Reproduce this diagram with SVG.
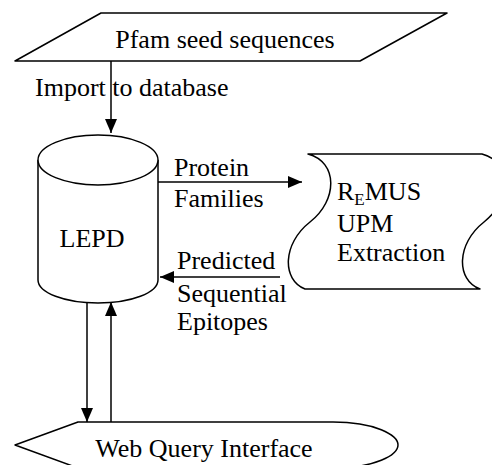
<svg xmlns="http://www.w3.org/2000/svg" width="492" height="465" viewBox="0 0 492 465">
<style>
.s{fill:#fff;stroke:#000;stroke-width:1.5;stroke-linejoin:round}
.t{font-family:"Liberation Serif","Times New Roman",serif;font-size:26px;fill:#000}
.c{stroke:#000;stroke-width:1.5;fill:none}
</style>
<defs>
<marker id="ah" viewBox="0 0 14 12" refX="14" refY="6" markerWidth="14" markerHeight="12" markerUnits="userSpaceOnUse" orient="auto">
<path d="M0,0 L14,6 L0,12 Z" fill="#000"/>
</marker>
</defs>
<rect width="492" height="465" fill="#fff"/>
<g id="pfam">
<path class="s" d="M101,13 L447,13 L360,61 L15,61 Z"/>
<text class="t" x="225" y="48" text-anchor="middle">Pfam seed sequences</text>
</g>
<g id="lepd">
<path class="s" d="M38,160 L38,280 A60,23 0 0 0 158,280 L158,160"/>
<ellipse class="s" cx="98" cy="160" rx="60" ry="25"/>
<text class="t" x="92" y="247" text-anchor="middle">LEPD</text>
</g>
<g id="remus">
<path class="s" d="M308,154 L482,154 C512,162 512,200 484,222 C456,244 456,280 480,289 L305,289 C282,280 282,244 310,222 C338,200 338,162 308,154 Z"/>
<text class="t" x="337" y="200">R<tspan font-size="17" dy="5">E</tspan><tspan dy="-5">MUS</tspan></text>
<text class="t" x="337" y="232">UPM</text>
<text class="t" x="337" y="261">Extraction</text>
</g>
<g id="web">
<path class="s" d="M15,445 L78,422 L333,422 C375,422 398,435 398,445 C398,455 375,468 333,468 L78,468 Z"/>
<text class="t" x="204" y="457" text-anchor="middle">Web Query Interface</text>
</g>
<g id="connectors">
<line class="c" x1="111" y1="61" x2="111" y2="133" marker-end="url(#ah)"/>
<line class="c" x1="158" y1="182" x2="302" y2="182" marker-end="url(#ah)"/>
<line class="c" x1="280" y1="277" x2="160" y2="277" marker-end="url(#ah)"/>
<line class="c" x1="87" y1="302" x2="87" y2="422" marker-end="url(#ah)"/>
<line class="c" x1="111" y1="422" x2="111" y2="302" marker-end="url(#ah)"/>
<text class="t" x="35" y="96">Import to database</text>
<text class="t" x="174" y="176">Protein</text>
<text class="t" x="174" y="207">Families</text>
<text class="t" x="177" y="269">Predicted</text>
<text class="t" x="177" y="302">Sequential</text>
<text class="t" x="177" y="330">Epitopes</text>
</g>
</svg>
